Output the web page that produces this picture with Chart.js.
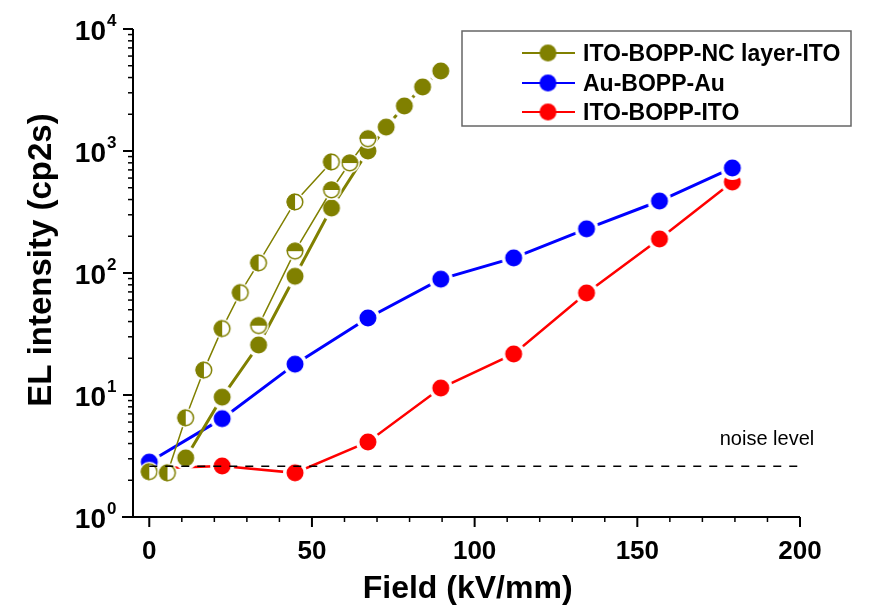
<!DOCTYPE html>
<html><head><meta charset="utf-8">
<script src="https://cdn.jsdelivr.net/npm/chart.js@4/dist/chart.umd.min.js"></script>
<style>html,body{margin:0;padding:0;background:#fff}#c{display:block}</style>
</head><body>
<canvas id="c" width="876" height="607"></canvas>
<script>
// ---- data ----
const fieldA = [0, 5.6, 11.2, 16.8, 22.4, 28, 33.6, 44.8, 56];
const elA    = [2.35, 2.3, 6.5, 16, 35, 69, 121, 382, 813];
const fieldB = [33.6, 44.8, 56, 61.6, 67.2];
const elB    = [37, 151, 479, 797, 1260];
const fieldC = [11.2, 22.4, 33.6, 44.8, 56, 67.2, 72.8, 78.4, 84, 89.6];
const elC    = [3.05, 9.6, 25.7, 94, 341, 1000, 1570, 2340, 3350, 4530];
const fieldAu = [0, 22.4, 44.8, 67.2, 89.6, 112, 134.4, 156.8, 179.2];
const elAu    = [2.82, 6.4, 17.9, 42.8, 89, 133, 230, 389, 726];
const fieldITO = [0, 22.4, 44.8, 67.2, 89.6, 112, 134.4, 156.8, 179.2];
const elITO    = [2.5, 2.62, 2.3, 4.12, 11.4, 21.7, 68.6, 190, 557];
const noiseField = [0, 200];
const noiseLevel = [2.6, 2.6];
const xTicks = [0, 50, 100, 150, 200];
const xMinorTicks = [10, 20, 30, 40, 60, 70, 80, 90, 110, 120, 130, 140, 160, 170, 180, 190];
const yExponents = [0, 1, 2, 3, 4];
const legendLabels = ['ITO-BOPP-NC layer-ITO', 'Au-BOPP-Au', 'ITO-BOPP-ITO'];

const OLIVE = '#808000', BLUE = '#0000ff', RED = '#ff0000';
const zip = (xs, ys) => xs.map((x, i) => ({x, y: ys[i]}));

function makeMarker(kind, color, r, gap) {
  const s = Math.ceil((r + gap) * 2) + 2;
  const c = document.createElement('canvas');
  c.width = s; c.height = s;
  const g = c.getContext('2d');
  const m = s / 2;
  if (gap > 0) { g.fillStyle = '#fff'; g.beginPath(); g.arc(m, m, r + gap, 0, 2 * Math.PI); g.fill(); }
  if (kind === 'solid') {
    g.fillStyle = color; g.beginPath(); g.arc(m, m, r, 0, 2 * Math.PI); g.fill();
  } else {
    g.fillStyle = '#fff'; g.beginPath(); g.arc(m, m, r, 0, 2 * Math.PI); g.fill();
    g.fillStyle = color; g.beginPath();
    if (kind === 'left') g.arc(m, m, r, Math.PI / 2, 3 * Math.PI / 2);
    else g.arc(m, m, r, Math.PI, 2 * Math.PI);
    g.closePath(); g.fill();
    g.strokeStyle = color; g.lineWidth = 1.5; g.beginPath(); g.arc(m, m, r - 0.75, 0, 2 * Math.PI); g.stroke();
  }
  return c;
}
const mLeft = makeMarker('left', OLIVE, 8.5, 1.5);
const mTop = makeMarker('top', OLIVE, 8.5, 1.5);
const mOlive = makeMarker('solid', OLIVE, 8.5, 3.5);
const mBlue = makeMarker('solid', BLUE, 8.5, 3.5);
const mRed = makeMarker('solid', RED, 8.5, 3.5);
const mOliveL = makeMarker('solid', OLIVE, 8.5, 0);
const mBlueL = makeMarker('solid', BLUE, 8.5, 0);
const mRedL = makeMarker('solid', RED, 8.5, 0);

const FONT = '"Liberation Sans", Arial, sans-serif';

const axisPlugin = {
  id: 'axesText',
  afterDraw(chart) {
    const ctx = chart.ctx, xs = chart.scales.x, ys = chart.scales.y;
    const L = xs.getPixelForValue(-5), R = xs.getPixelForValue(200);
    const T = ys.getPixelForValue(10000), B = ys.getPixelForValue(1);
    ctx.save();
    ctx.strokeStyle = '#000'; ctx.fillStyle = '#000'; ctx.lineWidth = 2;
    // axis lines
    ctx.beginPath(); ctx.moveTo(L, T); ctx.lineTo(L, B); ctx.moveTo(L - 11, B); ctx.lineTo(R, B); ctx.stroke();
    // x ticks
    ctx.lineWidth = 2;
    xTicks.forEach(v => { const p = xs.getPixelForValue(v); ctx.beginPath(); ctx.moveTo(p, B); ctx.lineTo(p, B + 10); ctx.stroke(); });
    ctx.lineWidth = 1.5;
    xMinorTicks.forEach(v => { const p = xs.getPixelForValue(v); ctx.beginPath(); ctx.moveTo(p, B); ctx.lineTo(p, B + 5); ctx.stroke(); });
    // y ticks
    yExponents.forEach(e => {
      const p = ys.getPixelForValue(Math.pow(10, e));
      ctx.lineWidth = 2; ctx.beginPath(); ctx.moveTo(L - 10, p); ctx.lineTo(L, p); ctx.stroke();
      if (e < 4) {
        ctx.lineWidth = 1.5;
        for (let k = 2; k <= 9; k++) {
          const q = ys.getPixelForValue(k * Math.pow(10, e));
          ctx.beginPath(); ctx.moveTo(L - 5, q); ctx.lineTo(L, q); ctx.stroke();
        }
      }
    });
    // x tick labels
    ctx.font = 'bold 26px ' + FONT; ctx.textAlign = 'center'; ctx.textBaseline = 'alphabetic';
    xTicks.forEach(v => ctx.fillText(String(v), xs.getPixelForValue(v), B + 42));
    // y tick labels
    yExponents.forEach(e => {
      const p = ys.getPixelForValue(Math.pow(10, e));
      ctx.font = 'bold 28px ' + FONT; ctx.textAlign = 'right';
      ctx.fillText('10', 106, p + 11);
      ctx.font = 'bold 17px ' + FONT; ctx.textAlign = 'left';
      ctx.fillText(String(e), 107, p - 3);
    });
    // axis titles
    ctx.font = 'bold 32px ' + FONT; ctx.textAlign = 'center';
    ctx.fillText('Field (kV/mm)', (xs.getPixelForValue(0) + R) / 2 - 7, 598);
    ctx.save();
    ctx.font = 'bold 33px ' + FONT;
    ctx.translate(51, 260); ctx.rotate(-Math.PI / 2);
    ctx.fillText('EL intensity (cp2s)', 0, 0);
    ctx.restore();
    // noise label
    ctx.font = '20px ' + FONT; ctx.textAlign = 'center';
    ctx.fillText('noise level', 767, 445);
    // legend
    ctx.strokeStyle = '#666'; ctx.lineWidth = 1.5;
    ctx.strokeRect(462, 31, 389, 95);
    const rows = [53, 83, 112];
    const cols = [OLIVE, BLUE, RED];
    const mk = [mOliveL, mBlueL, mRedL];
    rows.forEach((y, i) => {
      ctx.strokeStyle = cols[i]; ctx.lineWidth = 2;
      ctx.beginPath(); ctx.moveTo(522, y); ctx.lineTo(575, y); ctx.stroke();
      ctx.drawImage(mk[i], 548 - mk[i].width / 2, y - mk[i].height / 2);
      ctx.fillStyle = '#000'; ctx.font = 'bold 23px ' + FONT; ctx.textAlign = 'left';
      ctx.fillText(legendLabels[i], 583, y + 8);
    });
    ctx.restore();
  }
};

new Chart(document.getElementById('c').getContext('2d'), {
  type: 'scatter',
  data: {
    datasets: [
      {label: 'noise', data: zip(noiseField, noiseLevel), showLine: true, borderColor: '#000', borderWidth: 1.5, borderDash: [8, 8], pointRadius: 0, clip: false},
      {label: legendLabels[0], data: zip(fieldA, elA), showLine: true, borderColor: OLIVE, borderWidth: 1.5, pointStyle: mLeft, pointRadius: 8, clip: false},
      {label: legendLabels[0], data: zip(fieldB, elB), showLine: true, borderColor: OLIVE, borderWidth: 1.5, pointStyle: mTop, pointRadius: 8, clip: false},
      {label: legendLabels[0], data: zip(fieldC, elC), showLine: true, borderColor: OLIVE, borderWidth: 3, pointStyle: mOlive, pointRadius: 8, clip: false},
      {label: legendLabels[1], data: zip(fieldAu, elAu), showLine: true, borderColor: BLUE, borderWidth: 3, pointStyle: mBlue, pointRadius: 8, clip: false},
      {label: legendLabels[2], data: zip(fieldITO, elITO), showLine: true, borderColor: RED, borderWidth: 2.5, pointStyle: mRed, pointRadius: 8, clip: false}
    ]
  },
  options: {
    responsive: false, animation: false, devicePixelRatio: 1,
    layout: {padding: {left: 133, right: 76, top: 29, bottom: 90}},
    elements: {line: {tension: 0}},
    scales: {
      x: {type: 'linear', min: -5, max: 200, display: false},
      y: {type: 'logarithmic', min: 1, max: 10000, display: false}
    },
    plugins: {legend: {display: false}, tooltip: {enabled: false}}
  },
  plugins: [axisPlugin]
});
</script>
</body></html>
